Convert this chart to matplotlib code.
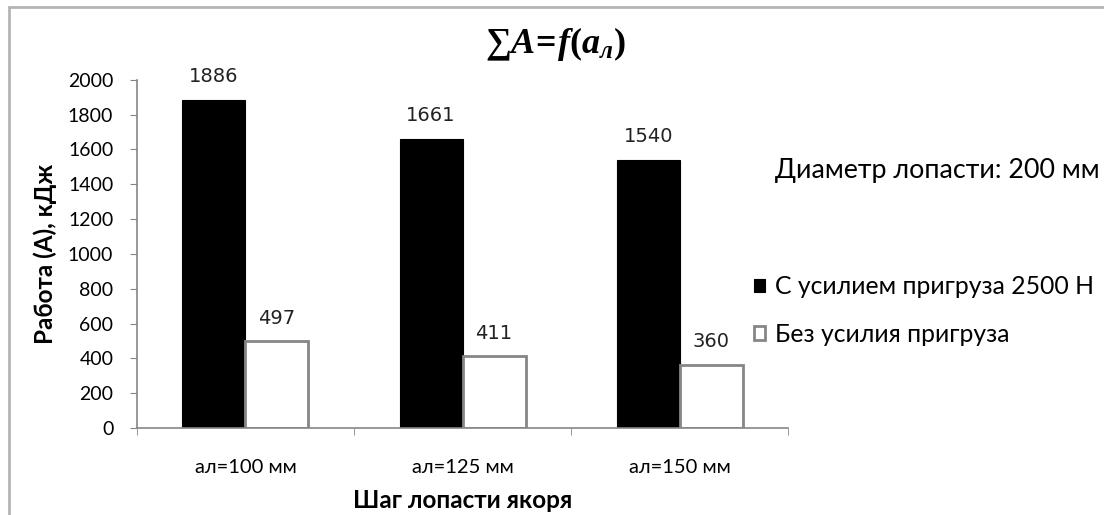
import matplotlib.pyplot as plt
import numpy as np
from matplotlib.patches import Rectangle

categories = ["ал=100 мм", "ал=125 мм", "ал=150 мм"]
with_load = [1886, 1661, 1540]
without_load = [497, 411, 360]
series_names = ["С усилием пригруза 2500 Н", "Без усилия пригруза"]

plt.rcParams['font.family'] = ['Lato', 'DejaVu Sans']
plt.rcParams['mathtext.fontset'] = 'custom'
plt.rcParams['mathtext.rm'] = 'Liberation Serif:bold'
plt.rcParams['mathtext.it'] = 'Liberation Serif:italic:bold'
plt.rcParams['mathtext.bf'] = 'Liberation Serif:bold'

fig = plt.figure(figsize=(11.04, 5.15), dpi=100)
ax = fig.add_axes([0.124, 0.169, 0.59, 0.676])

x = np.arange(len(categories))
width = 0.29
gray = '#868686'
b1 = ax.bar(x - width / 2, with_load, width=width, color='black', edgecolor='black',
            linewidth=0.8, label=series_names[0])
b2 = ax.bar(x + width / 2, without_load, width=width, color='white', edgecolor=gray,
            linewidth=2, label=series_names[1])

for bars in (b1, b2):
    for r in bars:
        ax.annotate(str(int(r.get_height())), (r.get_x() + r.get_width() / 2, r.get_height()),
                    xytext=(0, 10), textcoords='offset points', ha='center', va='bottom',
                    fontsize=14, color='#222222', family=['DejaVu Sans'])

ax.set_xlim(-0.5, 2.5)
ax.set_ylim(0, 2000)
ax.set_yticks(np.arange(0, 2001, 200))
ax.set_xticks(x)
ax.set_xticklabels(categories, fontsize=14.5)
ax.set_xticks([-0.5, 0.5, 1.5, 2.5], minor=True)
ax.tick_params(axis='x', which='major', length=0, pad=22)
ax.tick_params(axis='x', which='minor', length=5, color=gray, direction='out')
ax.tick_params(axis='y', length=5, color=gray, labelsize=14, pad=12)
for s in ('top', 'right'):
    ax.spines[s].set_visible(False)
for s in ('left', 'bottom'):
    ax.spines[s].set_color(gray)
    ax.spines[s].set_linewidth(1.2)

ax.set_ylabel("Работа (А), кДж", fontsize=17.5, fontweight='bold', labelpad=8)
ax.set_xlabel("Шаг лопасти якоря", fontsize=17.5, fontweight='bold', labelpad=10)

fig.text(0.503, 0.915, r'$\sum\mathit{A}\!=\!\mathit{f}\mathrm{(}\mathit{a}_{\mathit{л}}\mathrm{)}$',
         ha='center', va='center', fontsize=26)
fig.text(0.702, 0.668, "Диаметр лопасти: 200 мм", fontsize=19.4, va='center', ha='left')

fig.legend(handles=[b1, b2], labels=series_names, loc='upper left',
           bbox_to_anchor=(0.674, 0.485), frameon=False, fontsize=17.8,
           handlelength=0.45, handleheight=0.45, handletextpad=0.4, labelspacing=1.0,
           borderaxespad=0)

fig.patches.append(Rectangle((9 / 1104, -0.1), 1.2, (515 - 7) / 515 + 0.1,
                             transform=fig.transFigure, fill=False,
                             edgecolor='#b4b4b4', linewidth=2))

fig.savefig('out.png', dpi=100)
